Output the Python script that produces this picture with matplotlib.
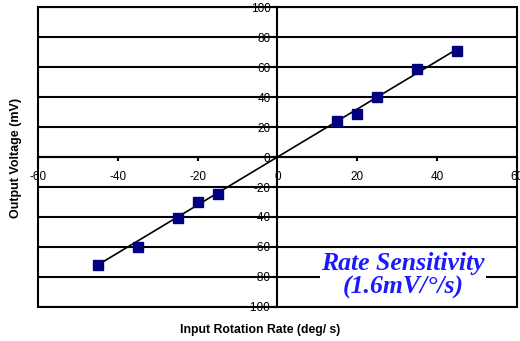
import numpy as np
import matplotlib.pyplot as plt
from matplotlib.patches import Rectangle

plt.rcParams['font.family'] = ['Liberation Sans', 'DejaVu Sans']
plt.rcParams['axes.unicode_minus'] = False

# measured data (deg/s, mV)
rate = [-45, -35, -25, -20, -15, 15, 20, 25, 35, 45]
voltage = [-72, -60, -41, -30, -25, 24, 29, 40, 59, 71]

# fit line, 1.6 mV per deg/s
fit_x = [-45, 45]
sensitivity = 1.6

xticks = [-60, -40, -20, 0, 20, 40, 60]
yticks = [-100, -80, -60, -40, -20, 0, 20, 40, 60, 80, 100]

fig = plt.figure(figsize=(5.2, 3.41), dpi=100)
ax = fig.add_axes([0.073, 0.1, 0.921, 0.879])

ax.set_xlim(-60, 60)
ax.set_ylim(-100, 100)

# horizontal grid lines
for y in yticks:
    ax.axhline(y, color="black", lw=1.5, zorder=3)

# outer frame
ax.add_patch(Rectangle((0, 0), 1, 1, transform=ax.transAxes, fill=False,
                       edgecolor="black", lw=1.5, zorder=3, clip_on=False))

for s in ["top", "right"]:
    ax.spines[s].set_visible(False)
ax.spines["left"].set_position(("data", 0))
ax.spines["bottom"].set_position(("data", 0))
ax.spines["left"].set_linewidth(1.5)
ax.spines["bottom"].set_linewidth(1.5)
ax.spines["left"].set_zorder(3)

ax.set_xticks(xticks)
ax.set_yticks(yticks)
ax.tick_params(axis="both", labelsize=8.5, direction="out", length=3, width=1.5)
ax.tick_params(axis="x", pad=7)
ax.tick_params(axis="y", pad=2)

fx = np.array(fit_x)
ax.plot(fx, sensitivity * fx, color="black", lw=1.2, zorder=4)
ax.plot(rate, voltage, "s", color="#000080", markersize=6.5, zorder=5)

ax.text(31.5, -79, "Rate Sensitivity\n(1.6mV/°/s)", ha="center", va="center",
        family="Liberation Serif", style="italic", weight="bold", fontsize=18.5,
        color="#1a1aff", linespacing=1.05, zorder=6,
        bbox=dict(facecolor="white", edgecolor="none", pad=1))

fig.text(0.5, 0.033, "Input Rotation Rate (deg/ s)", ha="center", va="center",
         fontsize=8.8, weight="bold")
fig.text(0.03, 0.537, "Output Voltage (mV)", ha="center", va="center",
         rotation=90, fontsize=9, weight="bold")

plt.savefig("out.png", dpi=100)
